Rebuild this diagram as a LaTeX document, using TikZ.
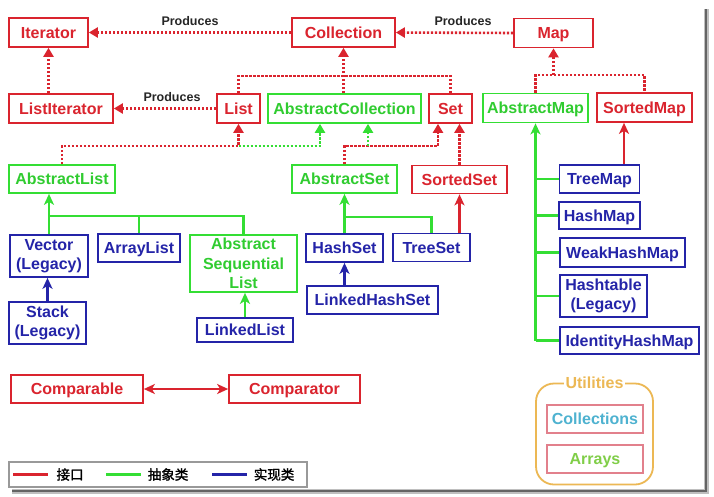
\documentclass[tikz,border=0pt]{standalone}
\usepackage{fontspec}
\setmainfont{Liberation Sans}
\newfontfamily\cjk[FakeBold=1.5]{Noto Sans CJK SC}
\usetikzlibrary{arrows.meta}
\definecolor{ired}{RGB}{218,36,46}
\definecolor{agreen}{RGB}{52,222,52}
\definecolor{cblue}{RGB}{36,36,168}
\definecolor{uorange}{RGB}{236,184,84}
\definecolor{upink}{RGB}{226,128,140}
\definecolor{uteal}{RGB}{78,178,208}
\definecolor{ugreen}{RGB}{128,206,72}
\definecolor{framec}{RGB}{100,100,100}
\tikzset{
 box/.style={draw, line width=1.7pt, inner sep=0pt, align=center, text height=11.5pt, text depth=0pt, font=\bfseries\fontsize{16}{19.5}\selectfont},
 multi/.style={text height={}, text depth={}},
 ibox/.style={box, draw=ired, text=ired},
 abox/.style={box, draw=agreen, text=agreen!92!black},
 cbox/.style={box, draw=cblue, text=cblue},
 sz/.style 2 args={minimum width=#1pt, minimum height=#2pt},
 dotl/.style={line width=2.6pt, dash pattern=on 2.2pt off 1.8pt},
 idot/.style={dotl, draw=ired},
 adot/.style={dotl, draw=agreen},
 iline/.style={line width=2.3pt, draw=ired},
 aline/.style={line width=2.3pt, draw=agreen},
 cline/.style={line width=2.3pt, draw=cblue},
 darr/.style={-{Triangle[length=9pt,width=10pt]}},
 sarr/.style={-{Stealth[length=11pt,width=10pt,inset=3pt]}},
 prod/.style={font=\bfseries\fontsize{12.5}{14}\selectfont, text=black!85},
}
\begin{document}
\begin{tikzpicture}[x=1pt,y=-1pt]
\path[use as bounding box, fill=white] (0,0) rectangle (714,496);
% frame shadow
\draw[line width=5pt, black!25] (12,491) -- (706,491) -- (706,9);
\draw[line width=2.4pt, framec] (12,491) -- (706,491) -- (706,9);

% nodes
\node[ibox,sz={79}{29}] (it) at (48.5,32.5) {Iterator};
\node[ibox,sz={103}{29}] (coll) at (343.5,32.5) {Collection};
\node[ibox,sz={79}{29}] (map) at (553.5,33) {Map};
\node[ibox,sz={104}{29}] (lit) at (61,108.5) {ListIterator};
\node[ibox,sz={43}{29}] (list) at (238.5,108.5) {List};
\node[abox,sz={153}{29}] (acoll) at (344.5,108.5) {AbstractCollection};
\node[ibox,sz={43}{29}] (set) at (450.5,108.5) {Set};
\node[abox,sz={105}{29}] (amap) at (535.5,108) {AbstractMap};
\node[ibox,sz={95}{29}] (smap) at (644.5,107.5) {SortedMap};
\node[abox,sz={106}{28}] (alist) at (62,179) {AbstractList};
\node[abox,sz={105}{28}] (aset) at (344.5,179) {AbstractSet};
\node[ibox,sz={95}{28}] (sset) at (459.5,179.5) {SortedSet};
\node[cbox,sz={80}{28}] (tmap) at (599.5,179) {TreeMap};
\node[cbox,sz={81}{27}] (hmap) at (599.5,215.5) {HashMap};
\node[cbox,sz={125}{29}] (whm) at (622.5,252.5) {WeakHashMap};
\node[cbox,multi,sz={87}{42}] (htab) at (603.5,296) {Hashtable\\(Legacy)};
\node[cbox,sz={139}{27}] (ihm) at (629.5,340.5) {IdentityHashMap};
\node[cbox,multi,sz={78}{42}] (vec) at (49,256) {Vector\\(Legacy)};
\node[cbox,sz={82}{28}] (alst) at (139,248) {ArrayList};
\node[abox,multi,sz={107}{57}] (asl) at (243.5,263.5) {Abstract\\Sequential\\List};
\node[cbox,sz={77}{28}] (hset) at (344.5,248) {HashSet};
\node[cbox,sz={77}{28}] (tset) at (431.5,247.5) {TreeSet};
\node[cbox,sz={131}{28}] (lhs) at (372.5,300) {LinkedHashSet};
\node[cbox,multi,sz={77}{42}] (stack) at (47.5,323) {Stack\\(Legacy)};
\node[cbox,sz={96}{24}] (llist) at (245,330) {LinkedList};
\node[ibox,sz={132}{28}] (cmp1) at (77,389) {Comparable};
\node[ibox,sz={131}{28}] (cmp2) at (294.5,389) {Comparator};

% produces labels
\node[prod] (p1) at (190,21) {Produces};
\node[prod] (p2) at (463,21) {Produces};
\node[prod] (p3) at (172,97) {Produces};

% helper coordinates
\coordinate (yc) at (0,76);
\coordinate (yl) at (0,146);
\coordinate (ym) at (0,75);
\coordinate (ya) at (0,216);
\coordinate (ys) at (0,217);
\coordinate (setL) at ([xshift=-12.5pt]set.south);
\coordinate (acL) at ([xshift=-24.5pt]acoll.south);
\coordinate (acR) at ([xshift=23.5pt]acoll.south);
\coordinate (smL) at ([xshift=-20.5pt]smap.south);

% dotted (interface) connectors
\draw[idot,darr] (coll.west) -- (it.east);
\draw[idot,darr] (map.west) -- (coll.east);
\draw[idot,darr] (list.west) -- (lit.east);
\draw[idot,darr] (it.south |- lit.north) -- (it.south);
\draw[idot] (list.north) |- (set.north |- yc) -- (set.north);
\draw[idot,darr] (coll.south |- acoll.north) -- (coll.south);
\draw[idot,darr] (alist.north) |- (list.south |- yl) -- (list.south);
\draw[adot,darr] (list.south |- yl) -| (acL);
\draw[idot,darr] (aset.north) |- (setL |- yl) -- (setL);
\draw[adot,darr] (acR |- yl) -- (acR);
\draw[idot,darr] (sset.north) -- (sset.north |- set.south);
\draw[idot] (amap.north) |- (smap.north |- ym) -- (smap.north);
\draw[idot,darr] (map.south |- ym) -- (map.south);

% solid connectors
\draw[aline,sarr] (vec.north) -- (vec.north |- alist.south);
\draw[aline] (vec.north |- ya) -| (asl.north);
\draw[aline] (alst.north) -- (alst.north |- ya);
\draw[cline,sarr] (stack.north) -- (stack.north |- vec.south);
\draw[aline,sarr] (llist.north) -- (llist.north |- asl.south);
\draw[aline,sarr] (hset.north) -- (hset.north |- aset.south);
\draw[aline] (hset.north |- ys) -| (tset.north);
\draw[iline,sarr] (sset.south |- tset.north) -- (sset.south);
\draw[cline,sarr] (hset.south |- lhs.north) -- (hset.south);
\draw[aline,sarr] (amap.south |- ihm.west) -- (amap.south);
\foreach \n in {tmap,hmap,whm,htab,ihm} \draw[aline] (amap.south |- \n.west) -- (\n.west);
\draw[iline,sarr] (smL |- tmap.north) -- (smL);
\draw[iline,{Stealth[length=11pt,width=10pt,inset=3pt]}-{Stealth[length=11pt,width=10pt,inset=3pt]}] (cmp1.east) -- (cmp2.west);

% utilities
\node[draw=uorange, line width=1.8pt, rounded corners=18pt, minimum width=117pt, minimum height=101pt] (util) at (594.5,434) {};
\node[fill=white, inner sep=1.5pt, text=uorange, font=\bfseries\fontsize{16}{18}\selectfont] (utilt) at (util.north) {Utilities};
\node[box, draw=upink, text=uteal, sz={96}{28}] (colls) at (595,419) {Collections};
\node[box, draw=upink, text=ugreen, sz={96}{28}] (arrs) at (595,459) {Arrays};

% legend
\node[draw=black!40, line width=1.8pt, sz={298}{25}] (leg) at (158,474.5) {};
\draw[iline] ([xshift=5pt]leg.west) -- ++(35,0);
\draw[aline] ([xshift=98pt]leg.west) -- ++(35,0);
\draw[cline] ([xshift=204pt]leg.west) -- ++(35,0);
\node[font=\cjk\fontsize{13.5}{13.5}\selectfont] (l1) at ([xshift=62pt]leg.west) {接口};
\node[font=\cjk\fontsize{13.5}{13.5}\selectfont] (l2) at ([xshift=160pt]leg.west) {抽象类};
\node[font=\cjk\fontsize{13.5}{13.5}\selectfont] (l3) at ([xshift=266pt]leg.west) {实现类};
\end{tikzpicture}
\end{document}
